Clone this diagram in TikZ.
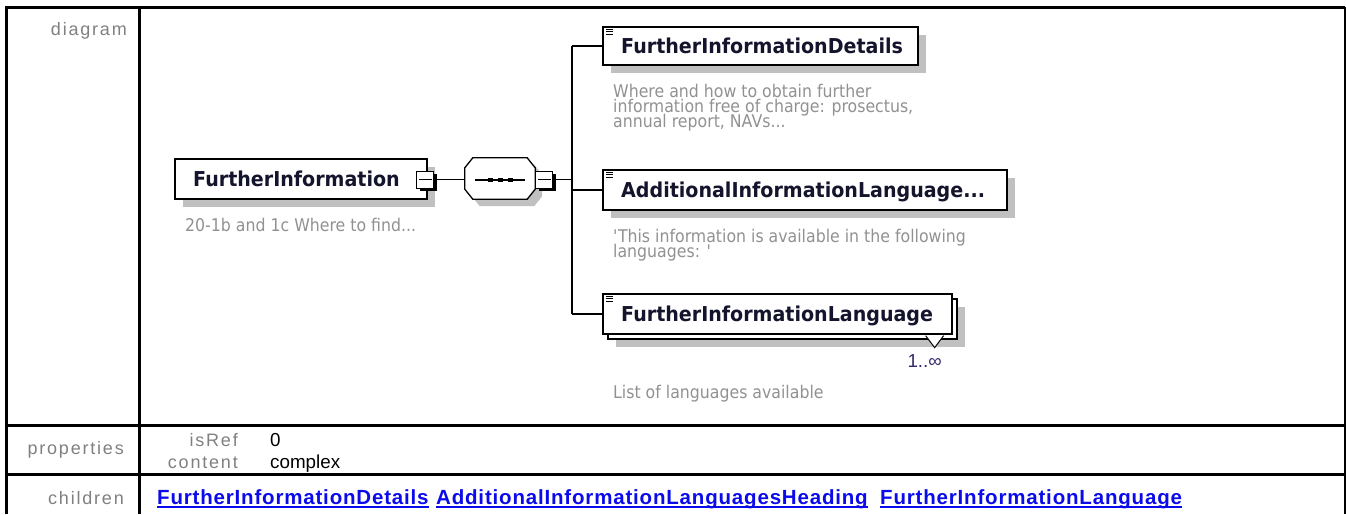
\documentclass[tikz,border=0pt]{standalone}
\usepackage{fontspec}
\setmainfont{Liberation Sans}
\newfontfamily\labfont[LetterSpace=10]{Liberation Sans}
\newfontfamily\linkfont[LetterSpace=4]{Liberation Sans}
\newfontfamily\elfont[FakeStretch=0.93]{DejaVu Sans}
\newfontfamily\descfont[FakeStretch=0.9]{DejaVu Sans}
\usetikzlibrary{shadows}
\definecolor{labgray}{RGB}{128,128,128}
\definecolor{descgray}{RGB}{145,145,145}
\definecolor{shadowgray}{RGB}{192,192,192}
\definecolor{linkblue}{RGB}{10,10,235}
\definecolor{elname}{RGB}{20,20,45}
\definecolor{multc}{RGB}{55,40,110}
\newcommand\octo[2]{([xshift=#1+8pt,yshift=#2]seq.north west) -- ([xshift=#1-8pt,yshift=#2]seq.north east) -- ([xshift=#1,yshift=#2-10pt]seq.north east) -- ([xshift=#1,yshift=#2+10pt]seq.south east) -- ([xshift=#1-8pt,yshift=#2]seq.south east) -- ([xshift=#1+8pt,yshift=#2]seq.south west) -- ([xshift=#1,yshift=#2+10pt]seq.south west) -- ([xshift=#1,yshift=#2-10pt]seq.north west) -- cycle}
\newcommand\descsize{\fontsize{17.5}{15}\selectfont}
\begin{document}
\lineskiplimit=-20pt\relax
\begin{tikzpicture}[x=1pt,y=-1pt,
  lab/.style={font=\labfont\fontsize{18}{20}\selectfont, text=labgray, inner sep=0pt},
  val/.style={font=\fontsize{18.8}{20}\selectfont, text=black, inner sep=0pt},
  lnk/.style={font=\linkfont\bfseries\fontsize{20.5}{22}\selectfont, text=linkblue, inner sep=0pt},
  ebox/.style={draw=black, line width=1.3pt, fill=white, inner sep=0pt, drop shadow={shadow xshift=8pt, shadow yshift=-8pt, fill=shadowgray, opacity=1}},
  plainbox/.style={draw=black, line width=1.3pt, fill=white, inner sep=0pt},
  ename/.style={font=\elfont\bfseries\fontsize{20.5}{22}\selectfont, text=elname, inner sep=0pt, anchor=base west},
  desc/.style={font=\descfont\descsize, text=descgray, inner sep=0pt, align=left},
  minus/.style={draw=black, fill=white, line width=1pt, minimum size=17pt, inner sep=0pt, drop shadow={shadow xshift=3pt, shadow yshift=-3pt, fill=black, opacity=1}, path picture={\draw[line width=1pt] ([xshift=2pt]path picture bounding box.west) -- ([xshift=-2pt]path picture bounding box.east);}},
  conn/.style={draw=black, line width=1.3pt},
  tline/.style={line width=3pt},
]
\useasboundingbox (0,0) rectangle (1346,514);
% table
\draw[tline] (6,514) -- (6,7) -- (1345,7);
\draw[line width=2pt] (1345,7) -- (1345,514);
\draw[tline] (139,7) -- (139,514);
\draw[tline] (6,425) -- (1345,425);
\draw[tline] (6,474) -- (1345,474);
\node[lab, anchor=base east] (ldiag) at (127,35) {diagram};
\node[lab, anchor=base east] (lprop) at (124,454) {properties};
\node[lab, anchor=base east] (lchild) at (124,504) {children};
\node[lab, anchor=base east] (kisref) at (238,446) {isRef};
\node[lab, anchor=base east] (kcont) at (238,468) {content};
\node[val, anchor=base west] (visref) at (270,446) {0};
\node[val, anchor=base west] (vcont) at (270,468) {complex};
\node[lnk, anchor=base west] (c1) at (157,504) {FurtherInformationDetails};
\node[lnk, anchor=base west] (c2) at (436,504) {AdditionalInformationLanguagesHeading};
\node[lnk, anchor=base west] (c3) at (880,504) {FurtherInformationLanguage};
\foreach \n in {c1,c2,c3} \draw[linkblue, line width=1.5pt] ([yshift=-3pt]\n.base west) -- ([yshift=-3pt]\n.base east);
% root
\node[ebox, minimum width=252pt, minimum height=40pt] (root) at (301,179) {};
\node[ename] (roott) at (193,186.4) {FurtherInformation};
\node[desc, anchor=base west] (rootd) at (185,231) {20-1b and 1c Where to find...};
\node[minus] (rootm) at (425,179.5) {};
% sequence
\node[inner sep=0pt, minimum width=70pt, minimum height=41pt] (seq) at (500,178.5) {};
\fill[shadowgray] \octo{7pt}{-7pt};
\filldraw[fill=white, draw=black, line width=1.3pt] \octo{0pt}{0pt};
\draw[line width=1.3pt] ([xshift=10pt,yshift=-1.5pt]seq.west) -- ([xshift=-10pt,yshift=-1.5pt]seq.east);
\foreach \dx in {-10,0,10} \fill ([xshift=\dx pt-2.5pt, yshift=0.5pt]seq.center) rectangle ++(5,4);
\node[minus] (seqm) at (544,179.5) {};
\coordinate (bus) at (572,179.5);
\draw[conn] (rootm.east) -- (rootm.east -| seq.west);
\draw[conn] (seqm.east) -- (bus);
% children
\node[ebox, minimum width=315pt, minimum height=38pt] (fid) at (760.5,46) {};
\node[ebox, minimum width=404pt, minimum height=40pt] (ail) at (805,190) {};
\node[ebox, minimum width=349pt, minimum height=40pt] (filb) at (782.5,319) {};
\node[plainbox, minimum width=349pt, minimum height=40pt] (fil) at (777.5,314) {};
\draw[conn] (bus |- fid.west) -- (bus |- fil.west);
\draw[conn] (bus |- fid.west) -- (fid.west);
\draw[conn] (bus |- ail.west) -- (ail.west);
\draw[conn] (bus |- fil.west) -- (fil.west);
\foreach \b in {fid,ail,fil} \foreach \d in {3,5.5,8} \draw[line width=0.8pt] ([xshift=4pt, yshift=-\d pt]\b.north west) -- ++(7,0);
\node[ename] (fidt) at (621,53.4) {FurtherInformationDetails};
\node[ename] (ailt) at (621,197.4) {AdditionalInformationLanguage...};
\node[ename] (filt) at (621,321.4) {FurtherInformationLanguage};
\node[desc, anchor=north west] (fidd) at (613,83.7) {Where and how to obtain further\\information free of charge: prosectus,\\annual report, NAVs...};
\node[desc, anchor=north west] (aild) at (613,228.7) {\textquotesingle This information is available in the following\\languages: \textquotesingle};
\node[desc, anchor=base west] (fild) at (613,398) {List of languages available};
\filldraw[fill=white, draw=black, line width=1pt] ([xshift=-32pt, yshift=4pt]filb.south east) -- ([xshift=-23pt,yshift=-8pt]filb.south east) -- ([xshift=-14pt,yshift=4pt]filb.south east);
\node[val, text=multc, anchor=base east] (mult) at (942,367) {1..∞};
\end{tikzpicture}
\end{document}
